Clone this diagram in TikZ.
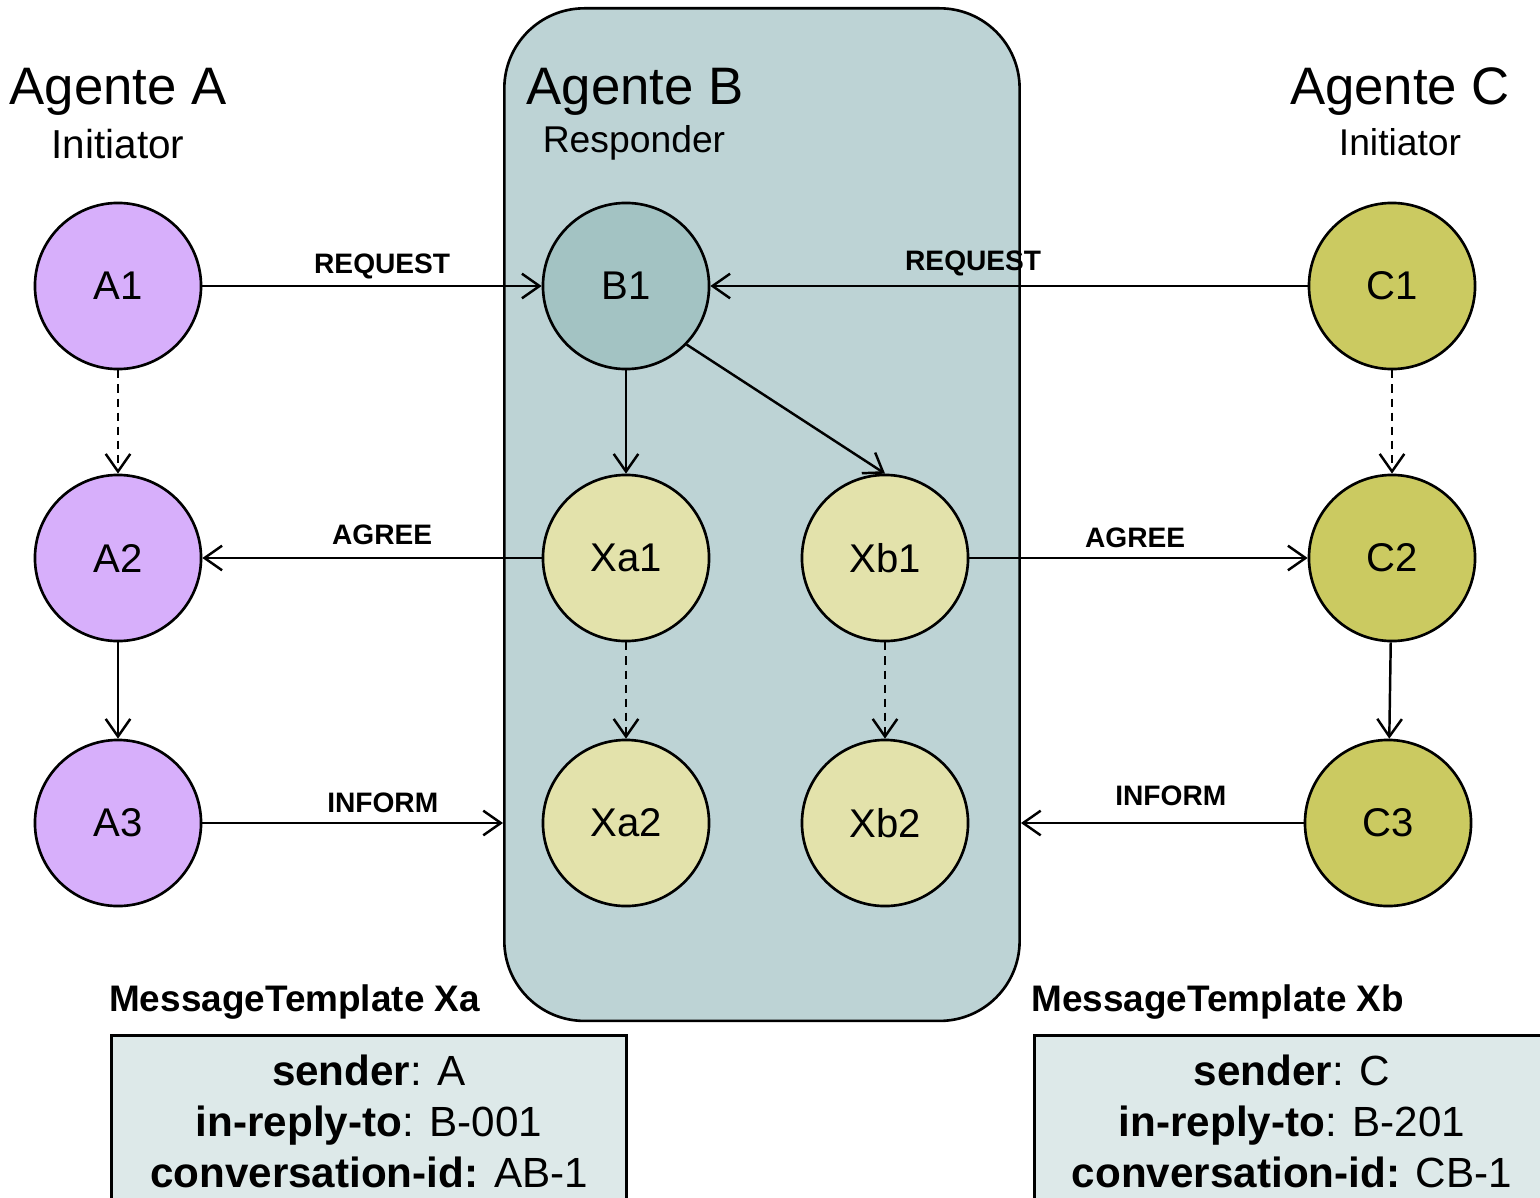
\documentclass[tikz,border=0pt]{standalone}
\usepackage{fontspec}
\setmainfont{Liberation Sans}
\usetikzlibrary{arrows.meta}

\definecolor{colA}{HTML}{D7AFFB}
\definecolor{colB}{HTML}{A3C3C3}
\definecolor{colX}{HTML}{E3E2AB}
\definecolor{colC}{HTML}{CBCA61}
\definecolor{agentbg}{HTML}{BDD3D5}
\definecolor{tplbg}{HTML}{DDE9E9}

\begin{document}
\begin{tikzpicture}[x=0.01cm, y=-0.01cm, >={Straight Barb[length=5pt,width=7pt]}, line width=0.7pt,
	state/.style={circle, draw, line width=0.75pt, minimum size=1.66cm, inner sep=0pt, font=\fontsize{11.4}{13}\selectfont},
	msg/.style={font=\bfseries\fontsize{8}{9}\selectfont, above, inner sep=2.5pt},
	agent/.style={font=\fontsize{15}{18}\selectfont},
	role/.style={font=\fontsize{11.5}{14}\selectfont},
	tpltitle/.style={font=\bfseries\fontsize{10.5}{12}\selectfont, anchor=west, inner sep=0pt},
	tplbox/.style={draw, fill=tplbg, line width=0.75pt, anchor=north west, minimum width=5.15cm, minimum height=2.6cm},
	tpltext/.style={anchor=north, align=center, inner sep=0pt, font=\fontsize{12}{14.5}\selectfont},
	nextstep/.style={->, dash pattern=on 2.3pt off 1.7pt}]
		\clip (0,0) rectangle (1540,1197);
		\useasboundingbox (0,0) rectangle (1540,1197);
		% responder agent area
		\node[draw, fill=agentbg, line width=0.75pt, rounded corners=0.8cm, anchor=north west,
			minimum width=5.15cm, minimum height=10.12cm] (agB) at (503,7) {};
		% agent headings
		\node[agent] at (118,92) {Agente A};
		\node[role] at (118,144) {Initiator};
		\node[agent] at (635,92) {Agente B};
		\node[role, font=\fontsize{10.6}{13}\selectfont] at (634,143) {Responder};
		\node[agent] at (1400,92) {Agente C};
		\node[role, font=\fontsize{10.6}{13}\selectfont] at (1400,142) {Initiator};
		% states
		\node[state, fill=colA] (A1) at (118,286) {A1};
		\node[state, fill=colA] (A2) at (118,558) {A2};
		\node[state, fill=colA] (A3) at (118,823) {A3};
		\node[state, fill=colB] (B1) at (626,286) {B1};
		\node[state, fill=colX] (Xa1) at (626,558) {Xa1};
		\node[state, fill=colX] (Xb1) at (885,558) {Xb1};
		\node[state, fill=colX] (Xa2) at (626,823) {Xa2};
		\node[state, fill=colX] (Xb2) at (885,823) {Xb2};
		\node[state, fill=colC] (C1) at (1392,286) {C1};
		\node[state, fill=colC] (C2) at (1392,558) {C2};
		\node[state, fill=colC] (C3) at (1388,823) {C3};
		% transitions inside each agent
		\draw[nextstep] (A1) -- (A2);
		\draw[->] (A2) -- (A3);
		\draw[->] (B1) -- (Xa1);
		\draw[->] (B1.-44) -- (Xb1.north);
		\draw[nextstep] (Xa1) -- (Xa2);
		\draw[nextstep] (Xb1) -- (Xb2);
		\draw[nextstep] (C1) -- (C2);
		\draw[->] (C2) -- (C3);
		% messages
		\draw[->] (A1) -- (B1) node[msg, pos=0.53, yshift=-1pt] {REQUEST};
		\draw[->] (C1) -- (B1) node[msg, pos=0.56] {REQUEST};
		\draw[->] (Xa1) -- (A2) node[msg, pos=0.47, yshift=1pt] {AGREE};
		\draw[->] (Xb1) -- (C2) node[msg, pos=0.49] {AGREE};
		\draw[->] (A3) -- (A3 -| agB.west) node[msg, pos=0.6] {INFORM};
		\draw[->] (C3) -- (C3 -| agB.east) node[msg, pos=0.47, yshift=2pt] {INFORM};
		% message templates
		\node[tpltitle] at (108,1002) {MessageTemplate Xa};
		\node[tplbox] (boxXa) at (110,1034) {};
		\node[tpltext] at ([yshift=-0.2cm]boxXa.north) {\textbf{sender}: A\\\textbf{in-reply-to}: B-001\\\textbf{conversation-id:} AB-1};
		\node[tpltitle] at (1030,1002) {MessageTemplate Xb};
		\node[tplbox] (boxXb) at (1033,1034) {};
		\node[tpltext] at ([yshift=-0.2cm]boxXb.north) {\textbf{sender}: C\\\textbf{in-reply-to}: B-201\\\textbf{conversation-id:} CB-1};
	\end{tikzpicture}
\end{document}
